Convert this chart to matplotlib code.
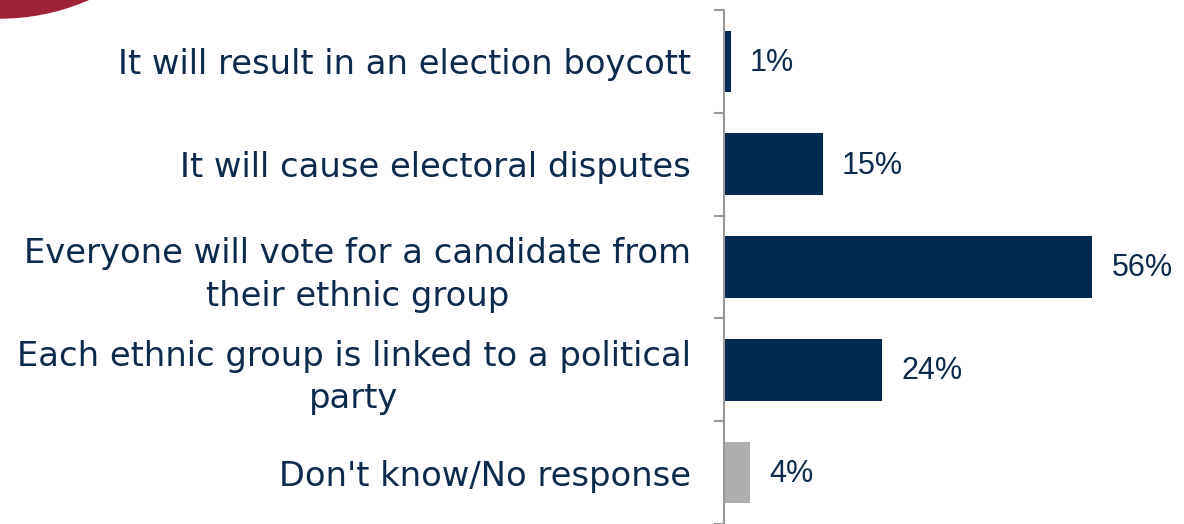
import matplotlib
matplotlib.use('Agg')
import matplotlib.pyplot as plt
from matplotlib.patches import Ellipse

# Survey responses
categories = [
    'It will result in an election boycott',
    'It will cause electoral disputes',
    'Everyone will vote for a candidate from\ntheir ethnic group',
    'Each ethnic group is linked to a political\nparty',
    "Don't know/No response",
]
values = [1, 15, 56, 24, 4]
value_labels = ['1%', '15%', '56%', '24%', '4%']
bar_colors = ['#022a4e', '#022a4e', '#022a4e', '#022a4e', '#aeaeae']

text_color = '#0c2a4c'

fig = plt.figure(figsize=(11.84, 5.24), dpi=100)
ax = fig.add_axes([0.6115, 0.0, 0.3885, 0.981])

y = list(range(len(categories)))
ax.barh(y, values, height=0.6, color=bar_colors)

ax.set_xlim(0, 70)
ax.set_ylim(len(categories) - 0.5, -0.5)

# value labels to the right of each bar
for yi, v, lab in zip(y, values, value_labels):
    ax.annotate(lab, (v, yi), xytext=(14, -1), textcoords='offset points',
                ha='left', va='center', fontsize=22, color=text_color,
                family='Liberation Sans')

# category labels
ax.set_yticks(y)
ax.set_yticklabels(categories, fontsize=24.3, color=text_color,
                   family='DejaVu Sans', multialignment='center')
for lbl in ax.get_yticklabels():
    lbl.set_linespacing(1.35)
ax.tick_params(axis='y', which='major', length=0, pad=24)
ax.set_yticks([i - 0.5 for i in range(len(categories) + 1)], minor=True)
ax.tick_params(axis='y', which='minor', length=7, width=1.5, color='#999999')
ax.set_xticks([])

for s in ['top', 'right', 'bottom']:
    ax.spines[s].set_visible(False)
ax.spines['left'].set_color('#999999')
ax.spines['left'].set_linewidth(1.5)

# red decoration in the top left corner
fig.add_artist(Ellipse((0.0, 1 + 197 / 524), 2 * 218 / 1184, 2 * 215 / 524,
                       transform=fig.transFigure, color='#9e2236', clip_on=False))

fig.savefig('out.png', dpi=100)
